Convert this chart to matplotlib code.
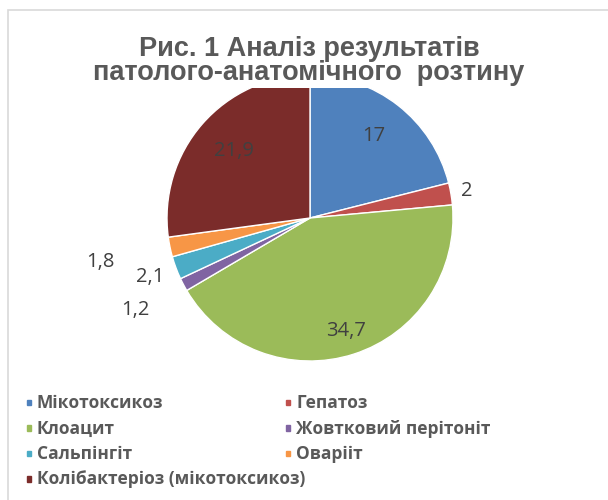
import numpy as np
import matplotlib
matplotlib.use("Agg")
import matplotlib.pyplot as plt
from matplotlib.patches import Rectangle

# дані діаграми
categories = ['Мікотоксикоз', 'Гепатоз', 'Клоацит', 'Жовтковий перітоніт',
              'Сальпінгіт', 'Оваріі\u0442', 'Колібактеріоз (мікотоксикоз)']
values = [17, 2, 34.7, 1.2, 2.1, 1.8, 21.9]
colors = ['#4F81BD', '#C0504D', '#9BBB59', '#8064A2', '#4BACC6', '#F79646', '#7B2C2A']
# відстань підпису від центру (у радіусах)
label_r = [0.73, 1.11, 0.83, 1.38, 1.19, 1.5, 0.71]
title_lines = ['Рис. 1 Аналіз результатів', 'патолого-анатомічного  розтину']

fig = plt.figure(figsize=(6.08, 5), dpi=100)

# рамка діаграми
fig.patches.append(Rectangle((8 / 608, -0.02), 1.0, 1 - 10 / 500 + 0.02,
                             transform=fig.transFigure, fill=False,
                             edgecolor='#D9D9D9', linewidth=1.2, zorder=0.5))

ax = fig.add_axes([(310 - 143) / 608, (500 - 361) / 500, 286 / 608, 286 / 500])
wedges, _ = ax.pie(values, colors=colors, startangle=90, counterclock=False,
                   radius=1, wedgeprops=dict(edgecolor='white', linewidth=1.0))
ax.set_xlim(-1, 1)
ax.set_ylim(-1, 1)
ax.set_aspect('equal')
ax.axis('off')

# підписи значень
for w, v, r in zip(wedges, values, label_r):
    ang = np.deg2rad((w.theta1 + w.theta2) / 2)
    x, y = r * np.cos(ang), r * np.sin(ang)
    txt = ('%g' % v).replace('.', ',')
    ax.text(x, y, txt, ha='center', va='center', fontsize=14.5,
            color='#404040', family='Open Sans', clip_on=False)

# заголовок поверх верхівки круга (біле тло, як у Excel)
fig.patches.append(Rectangle((95 / 608, 1 - 88 / 500), 435 / 608, 58 / 500,
                             transform=fig.transFigure, facecolor='white',
                             edgecolor='none', zorder=2))
for i, line in enumerate(title_lines):
    fig.text(309 / 608, 1 - (56 + 24 * i) / 500, line, ha='center', va='baseline',
             fontsize=19.5, fontweight='bold', color='#595959',
             family='Liberation Sans', zorder=3)

# легенда у два стовпці
col_x = [37, 296]
row_y0 = 403
row_step = 25.5
for i, (name, c) in enumerate(zip(categories, colors)):
    col = i % 2
    row = i // 2
    x = col_x[col]
    y = row_y0 + row * row_step
    fig.patches.append(Rectangle(((x - 10) / 608, 1 - (y + 2) / 500), 3.5 / 608, 5.5 / 500,
                                 transform=fig.transFigure, color=c))
    fig.text(x / 608, 1 - y / 500, name, ha='left', va='center', fontsize=12.5,
             fontweight='bold', color='#595959', family='Open Sans')

fig.savefig('out.png', dpi=100)
